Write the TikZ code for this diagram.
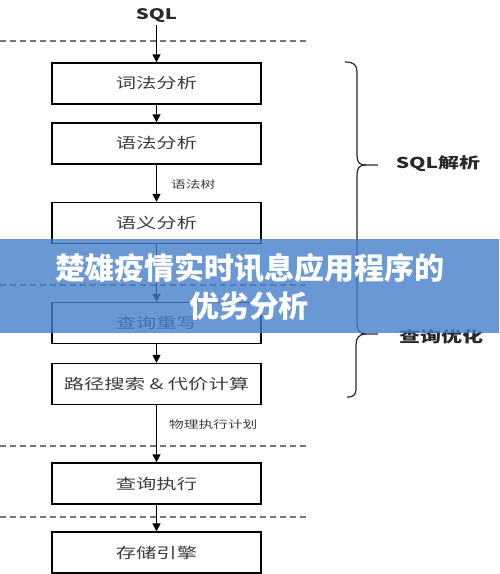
\documentclass[tikz,border=0pt]{standalone}
\usepackage{fontspec}
\newfontfamily\dg[FakeStretch=1.4]{Noto Sans CJK SC}
\newfontfamily\bn{Noto Sans CJK SC}
\usetikzlibrary{arrows.meta}
\definecolor{txt}{RGB}{60,60,60}
\definecolor{sidetxt}{RGB}{40,40,40}
\definecolor{bannerc}{RGB}{69,126,201}
\definecolor{dashc}{RGB}{120,120,120}
\begin{document}
\begin{tikzpicture}[x=1pt,y=-1pt,
  box/.style={draw=black, line width=1.3pt, minimum width=209pt, minimum height=41pt, inner sep=0pt, font=\dg\fontsize{14.5}{16}\selectfont, text=txt},
  arr/.style={-{Triangle[width=8pt,length=8pt]}, line width=1.3pt},
  dashline/.style={draw=dashc, line width=1.1pt, dash pattern=on 6pt off 4pt},
  lbl/.style={font=\dg\fontsize{10.5}{12}\selectfont, text=txt, anchor=west, inner sep=0pt},
  side/.style={font=\dg\bfseries\fontsize{15}{17}\selectfont, text=sidetxt, inner sep=0pt},
  sqlf/.style={font=\dg\bfseries\fontsize{14.5}{16}\selectfont, text=sidetxt, inner sep=2pt},
  bracel/.style={draw=sidetxt, line width=1.2pt},
  bannertext/.style={font=\bn\bfseries\fontsize{30}{32}\selectfont, text=white, inner sep=0pt}]
\useasboundingbox (0,0) rectangle (499,574);
% dashed separators
\draw[dashline] (0,41) -- (307,41);
\draw[dashline] (0,285) -- (307,285);
\draw[dashline] (0,446) -- (307,446);
\draw[dashline] (0,517) -- (307,517);
% nodes
\node[sqlf] (sql) at (156.5,16) {SQL};
\node[box] (b1) at (156.5,83.5) {词法分析};
\node[box] (b2) at (156.5,143.5) {语法分析};
\node[box] (b3) at (156.5,223) {语义分析};
\node[box] (b4) at (156.5,323) {查询重写};
\node[box] (b5) at (156.5,384) {路径搜索 \& 代价计算};
\node[box] (b6) at (156.5,483.5) {查询执行};
\node[box] (b7) at (156.5,552.5) {存储引擎};
% arrows
\draw[arr] (sql) -- (b1);
\draw[arr] (b1) -- (b2);
\draw[arr] (b2) -- (b3);
\draw[arr] (b3) -- (b4);
\draw[arr] (b4) -- (b5);
\draw[arr] (b5) -- (b6);
\draw[arr] (b6) -- (b7);
% edge labels
\node[lbl] (l1) at (171,185) {语法树};
\node[lbl] (l2) at (169,425) {物理执行计划};
% braces
\draw[bracel] (345,62) .. controls (354,62) and (357,65) .. (357,72) -- (357,155) .. controls (357,162) and (359,165) .. (366,165) -- (378,165);
\draw[bracel] (366,165) .. controls (359,165) and (357,168) .. (357,175) -- (357,323) .. controls (357,330) and (359,334) .. (366,334) -- (378,334);
\draw[bracel] (366,334) .. controls (359,334) and (356,338) .. (356,345) -- (356,388) .. controls (356,395) and (354,397) .. (347,397);
\node[side] (s1) at (438,164) {SQL解析};
\node[side] (s2) at (441,337) {查询优化};
% banner
\fill[bannerc, opacity=0.8] (0,239) rectangle (499,333);
\node[bannertext] (t1) at (250,268) {楚雄疫情实时讯息应用程序的};
\node[bannertext] (t2) at (249,306) {优劣分析};
\end{tikzpicture}
\end{document}
